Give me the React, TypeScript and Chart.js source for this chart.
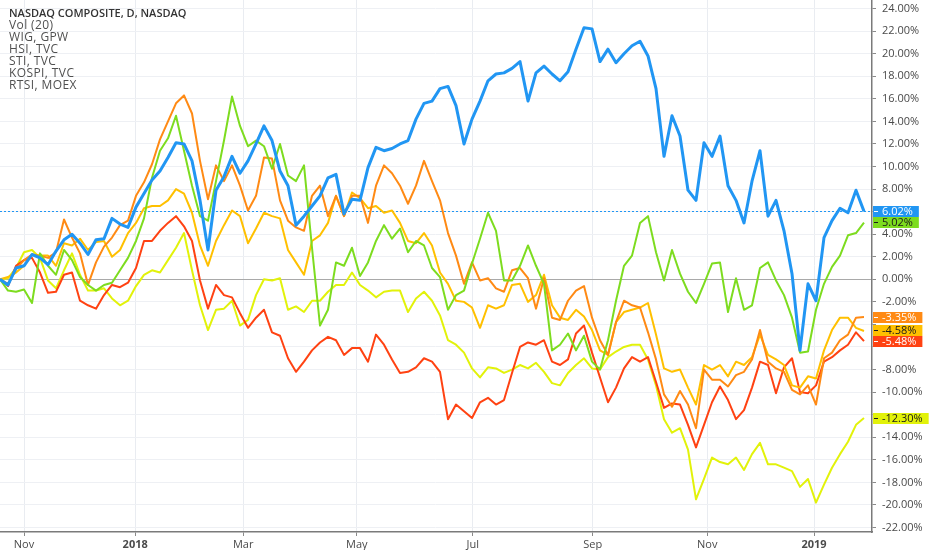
import React, { useEffect, useRef } from "react";
import { Chart, registerables } from "chart.js";

Chart.register(...registerables);

// trading-session index (one step ≈ 3 sessions)
const sessions: number[] = Array.from({ length: 109 }, (_, i) => i);

const xTickValues = [3.0, 16.9, 30.4, 44.6, 59.1, 74.1, 88.4, 101.75];
const xTickLabels = ["Nov", "2018", "Mar", "May", "Jul", "Sep", "Nov", "2019"];
const xTickBold = [false, true, false, false, false, false, false, true];

const legendTitle = "NASDAQ COMPOSITE, D, NASDAQ";
const legendLines = ["Vol (20)", "WIG, GPW", "HSI, TVC", "STI, TVC", "KOSPI, TVC", "RTSI, MOEX"];

const nasdaq = [
  0, -0.5, 1.0, 1.2, 2.2, 1.9, 1.3, 2.5, 3.5, 4.0,
  3.2, 2.2, 3.5, 3.6, 5.4, 4.9, 4.6, 6.4, 7.6, 8.8,
  9.6, 10.8, 12.1, 12.0, 10.5, 7.0, 2.6, 7.9, 9.1, 10.9,
  9.4, 10.5, 12.0, 13.6, 12.3, 9.6, 8.3, 4.8, 5.6, 6.5,
  7.4, 9.0, 9.3, 5.8, 7.1, 7.0, 9.9, 11.7, 11.4, 11.6,
  12.0, 12.3, 14.2, 15.6, 15.8, 16.9, 17.1, 15.4, 12.0, 14.2,
  15.8, 17.6, 18.2, 18.3, 18.7, 19.3, 15.8, 18.3, 18.9, 18.2,
  17.6, 18.4, 20.4, 22.3, 22.2, 19.3, 20.4, 19.2, 20.0, 20.7,
  21.1, 19.8, 16.9, 10.9, 14.5, 12.7, 7.9, 7.0, 12.1, 10.9,
  12.7, 8.3, 7.0, 5.0, 8.7, 11.4, 5.6, 7.0, 4.3, 0.5,
  -6.3, -0.4, -1.9, 3.7, 5.2, 6.3, 5.9, 7.9, 6.02,
];

const rtsi = [
  0, -1.0, -1.1, -0.9, -2.1, 2.3, 1.2, 0.4, 2.6, 1.7,
  0.2, -0.5, -1.0, -0.5, -0.3, 0.8, 1.9, 3.4, 5.4, 9.0,
  11.4, 12.5, 14.5, 11.4, 8.3, 5.6, 5.2, 8.7, 12.3, 16.2,
  13.6, 11.8, 12.3, 11.8, 9.8, 12.0, 9.2, 8.7, 10.1, 2.8,
  -4.1, -2.7, 1.5, 1.2, 2.8, 0.3, 1.5, 3.4, 4.8, 3.6,
  4.5, 2.4, 3.4, 3.0, 1.0, 0.2, -2.7, -1.4, -1.0, 1.4,
  3.6, 5.9, 4.3, -0.1, -0.1, 1.2, 3.0, 1.2, -0.4, -6.3,
  -5.8, -4.8, -6.3, -5.0, -7.3, -8.0, -5.4, -1.9, 1.2, 2.1,
  5.0, 5.6, 2.4, -0.1, 2.6, 0.5, -1.1, -2.1, -0.4, 1.4,
  1.5, -2.9, 0.1, -2.7, -2.3, 1.0, 1.5, -0.1, -1.4, -3.4,
  -6.5, -6.4, -2.7, -0.4, 1.1, 2.1, 3.9, 4.1, 5.02,
];

const hsi = [
  0, -0.4, 0.9, 1.7, 2.2, 2.1, 1.9, 2.4, 5.3, 3.7,
  2.3, -0.5, 1.5, 2.9, 3.7, 4.8, 5.2, 7.4, 8.6, 10.2,
  12.4, 14.0, 15.6, 16.3, 14.7, 10.5, 7.1, 10.1, 8.7, 10.1,
  8.3, 6.1, 7.4, 10.8, 10.7, 7.0, 5.2, 4.6, 4.3, 7.4,
  8.3, 5.6, 7.4, 5.6, 7.4, 7.4, 5.0, 8.3, 10.1, 9.4,
  8.3, 6.7, 8.3, 10.5, 8.7, 7.0, 4.1, 2.1, -0.4, 1.5,
  -0.1, 0.1, -0.8, -1.1, 0.8, 1.0, 0.1, -2.6, 0.1, -3.4,
  -3.6, -1.9, -1.0, -0.6, -3.4, -5.4, -6.7, -3.8, -1.9, -2.3,
  -2.5, -4.7, -7.1, -10.2, -11.3, -9.9, -11.1, -13.2, -8.0, -8.9,
  -8.9, -9.5, -8.5, -8.2, -7.1, -4.5, -7.3, -7.9, -8.2, -9.8,
  -10.2, -9.4, -11.1, -7.0, -6.5, -5.4, -4.9, -3.4, -3.35,
];

const sti = [
  0, 0.2, 0.6, 1.2, 2.2, 2.1, 2.1, 1.2, 3.2, 3.0,
  3.6, 2.6, 3.3, 3.4, 2.0, 2.6, 4.1, 5.0, 6.3, 6.5,
  6.5, 7.0, 8.0, 7.6, 5.9, 3.0, 1.2, 3.4, 4.8, 6.1,
  5.6, 3.2, 4.5, 5.9, 5.6, 5.4, 2.6, 1.5, 0.4, 3.4,
  3.9, 5.0, 7.4, 5.6, 7.7, 7.2, 6.3, 6.5, 5.9, 6.1,
  5.0, 3.4, 3.2, 4.1, 3.0, 0.6, -0.4, -1.9, -2.0, -2.5,
  -4.3, -2.3, -2.6, -2.3, -0.5, -0.4, -2.0, -1.4, 0.4, -2.3,
  -3.4, -3.6, -2.7, -3.3, -4.5, -6.3, -6.7, -3.8, -2.9, -2.7,
  -2.5, -2.1, -4.9, -7.9, -8.2, -8.0, -9.6, -11.1, -7.6, -8.0,
  -7.6, -8.6, -7.3, -7.6, -6.9, -4.9, -6.7, -7.1, -7.6, -9.4,
  -9.6, -8.6, -8.8, -6.3, -4.5, -3.4, -3.4, -4.3, -4.58,
];

const wig = [
  0, -0.6, 1.2, 1.7, 1.9, 0.6, -1.2, -1.1, 0.4, 0.6,
  -1.9, -2.3, -2.6, -1.4, -0.5, -0.7, -0.3, 1.0, 3.4, 3.4,
  4.3, 5.0, 5.6, 4.7, 3.4, -0.1, -2.6, -0.5, -1.4, -1.6,
  -3.0, -4.3, -3.4, -2.7, -4.7, -5.0, -7.0, -8.2, -7.3, -6.3,
  -5.6, -5.1, -5.4, -6.7, -6.1, -6.1, -7.3, -4.9, -5.8, -7.1,
  -8.3, -8.2, -7.8, -7.0, -7.3, -8.2, -12.4, -11.1, -11.7, -12.3,
  -10.9, -10.5, -11.1, -10.7, -8.3, -6.0, -5.6, -5.8, -5.4, -7.3,
  -7.6, -7.1, -4.8, -4.1, -6.5, -8.7, -10.9, -9.6, -7.9, -6.9,
  -7.3, -6.9, -9.1, -11.4, -11.0, -11.1, -12.9, -14.9, -12.9, -10.9,
  -9.5, -10.7, -12.4, -11.6, -9.6, -7.3, -7.6, -10.1, -7.8, -7.0,
  -10.0, -10.1, -9.4, -7.3, -6.9, -6.3, -5.8, -4.7, -5.48,
];

const kospi = [
  0, 0.1, 1.0, 2.4, 2.6, 1.9, -0.1, -0.8, 0.8, 2.3,
  0.4, -1.0, -1.0, -0.8, -1.7, -2.3, -1.9, -0.6, 0.4, 0.8,
  0.6, 1.7, 2.8, 4.1, 0.8, -2.3, -4.5, -2.7, -2.6, -1.9,
  -4.1, -3.6, -1.4, 0, -0.1, 0.1, -2.7, -2.4, -2.9, -1.9,
  -1.9, -1.1, -0.5, -0.5, 0.6, -0.5, -1.0, -1.6, -1.1, -1.0,
  -1.0, -2.9, -1.7, -1.1, -1.9, -3.2, -5.4, -5.8, -6.5, -7.9,
  -8.7, -7.8, -7.9, -8.3, -8.0, -7.6, -7.9, -7.4, -8.2, -9.2,
  -9.4, -8.3, -7.6, -7.0, -7.9, -8.0, -6.9, -6.4, -6.0, -5.8,
  -5.8, -7.1, -9.4, -12.4, -13.6, -13.2, -15.1, -19.5, -17.7, -15.8,
  -16.2, -16.4, -15.8, -16.9, -15.5, -14.5, -16.4, -16.4, -16.7, -17.0,
  -18.4, -17.7, -19.8, -18.2, -16.7, -15.5, -14.4, -12.9, -12.3,
];

type Series = { name: string; data: number[]; color: string; text: string; width: number };

const seriesList: Series[] = [
  { name: "NASDAQ COMPOSITE", data: nasdaq, color: "#2196f3", text: "#ffffff", width: 3 },
  { name: "RTSI", data: rtsi, color: "#7ddc1f", text: "#1a1a1a", width: 2 },
  { name: "HSI", data: hsi, color: "#ff8a14", text: "#ffffff", width: 2 },
  { name: "STI", data: sti, color: "#ffc000", text: "#1a1a1a", width: 2 },
  { name: "WIG", data: wig, color: "#ff4212", text: "#ffffff", width: 2 },
  { name: "KOSPI", data: kospi, color: "#e2f20a", text: "#1a1a1a", width: 2 },
];

const lastValues = seriesList.map((s) => s.data[s.data.length - 1]);

const FONT = '"Open Sans", "DejaVu Sans", sans-serif';

const overlayPlugin = {
  id: "overlay",
  beforeDatasetsDraw(chart: any) {
    const { ctx, chartArea, scales } = chart;
    const last = nasdaq[nasdaq.length - 1];
    const py = Math.round(scales.y.getPixelForValue(last)) + 0.5;
    ctx.save();
    ctx.strokeStyle = "#2196f3";
    ctx.lineWidth = 1;
    ctx.setLineDash([2, 2]);
    ctx.beginPath();
    ctx.moveTo(chartArea.left, py);
    ctx.lineTo(chartArea.right, py);
    ctx.stroke();
    ctx.restore();
  },
  afterDraw(chart: any) {
    const { ctx, chartArea, scales } = chart;
    const h = 11;
    const items = seriesList
      .map((s) => {
        const v = s.data[s.data.length - 1];
        return { v, s, c: scales.y.getPixelForValue(v) };
      })
      .sort((a, b) => a.c - b.c);
    for (let i = 1; i < items.length; i++) {
      if (items[i].c - items[i - 1].c < h) items[i].c = items[i - 1].c + h;
    }
    ctx.save();
    ctx.font = `11px ${FONT}`;
    ctx.textBaseline = "middle";
    ctx.textAlign = "left";
    const x0 = chartArea.right + 1;
    const tx = chartArea.right + 10;
    items.forEach((it) => {
      const label = it.v.toFixed(2) + "%";
      const w = ctx.measureText(label).width;
      const top = Math.round(it.c - h / 2);
      ctx.fillStyle = it.s.color;
      ctx.fillRect(x0, top, tx + w + 6 - x0, h);
      ctx.fillStyle = it.s.text;
      ctx.fillRect(x0 + 1, top + Math.floor(h / 2), 4, 1);
      ctx.fillText(label, tx, top + h / 2 + 0.5);
    });
    ctx.restore();
  },
};

export default function App() {
  const canvasRef = useRef<HTMLCanvasElement | null>(null);

  useEffect(() => {
    if (!canvasRef.current) return;
    const chart = new Chart(canvasRef.current, {
      type: "line",
      data: {
        labels: sessions,
        datasets: seriesList.map((s) => ({
          label: s.name,
          data: s.data,
          borderColor: s.color,
          backgroundColor: s.color,
          borderWidth: s.width,
          borderJoinStyle: "round",
          pointRadius: 0,
          tension: 0,
          fill: false,
        })),
      },
      options: {
        responsive: true,
        maintainAspectRatio: false,
        animation: false,
        layout: { padding: 0 },
        plugins: { legend: { display: false }, tooltip: { enabled: false } },
        scales: {
          x: {
            type: "linear",
            min: 0,
            max: 109,
            afterBuildTicks: (s: any) => {
              s.ticks = xTickValues.map((v) => ({ value: v }));
            },
            afterFit: (s: any) => {
              s.height = 18;
              s.paddingLeft = 0;
              s.paddingRight = 0;
            },
            ticks: {
              autoSkip: false,
              maxRotation: 0,
              padding: 2,
              color: "#4a4a4a",
              font: (c: any) => ({ family: FONT, size: 11, weight: xTickBold[c.index] ? "bold" : "normal" }),
              callback: (_v: any, i: number) => xTickLabels[i],
            },
            grid: { color: "#e9ecf1", tickColor: "#8a8a8a", tickLength: 4 },
            border: { color: "#7a7a7a", width: 1.5 },
          },
          y: {
            position: "right",
            min: -22.4,
            max: 24.76,
            afterFit: (s: any) => {
              s.width = 60;
              s.paddingTop = 0;
              s.paddingBottom = 0;
            },
            ticks: {
              stepSize: 2,
              includeBounds: false,
              autoSkip: false,
              maxTicksLimit: 100,
              padding: 6,
              color: (c: any) => {
                const v = c.tick ? c.tick.value : 999;
                return lastValues.some((lv) => Math.abs(lv - v) < 0.9) ? "rgba(0,0,0,0)" : "#4a4a4a";
              },
              font: { family: FONT, size: 11 },
              callback: (v: any) => Number(v).toFixed(2) + "%",
            },
            grid: {
              color: (c: any) => (c.tick && c.tick.value === 0 ? "#a9a9a9" : "#eef0f4"),
              tickColor: "#8a8a8a",
              tickLength: 4,
            },
            border: { color: "#7a7a7a", width: 1.5 },
          },
        },
      } as any,
      plugins: [overlayPlugin],
    });
    return () => chart.destroy();
  }, []);

  return (
    <div style={{ position: "absolute", left: 0, top: 0, width: 932, height: 550, background: "#ffffff" }}>
      <canvas ref={canvasRef} />
      <div
        style={{
          position: "absolute",
          left: 9,
          top: 7,
          fontFamily: FONT,
          fontSize: 12,
          lineHeight: "12px",
          letterSpacing: "0.4px",
          color: "#505050",
          pointerEvents: "none",
          whiteSpace: "nowrap",
        }}
      >
        <div style={{ fontWeight: 600, fontSize: 11, letterSpacing: 0, color: "#333333" }}>{legendTitle}</div>
        {legendLines.map((l) => (
          <div key={l}>{l}</div>
        ))}
      </div>
    </div>
  );
}
